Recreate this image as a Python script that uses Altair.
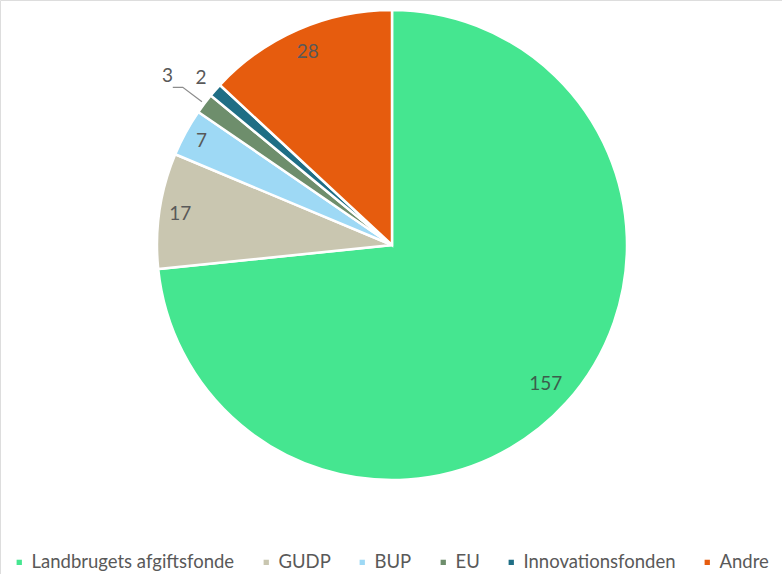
import math
import altair as alt
import pandas as pd

categories = ["Landbrugets afgiftsfonde", "GUDP", "BUP", "EU", "Innovationsfonden", "Andre"]
values = [157, 17, 7, 3, 2, 28]
colors = ["#45E690", "#C9C6B0", "#9ED9F5", "#6E8E6C", "#1F6E85", "#E65C0E"]

CX, CY, R = 392, 245, 235
label_r = [207, 214, 217, 281, 254, 211]

df = pd.DataFrame({
    "cat": categories,
    "val": values,
    "idx": list(range(len(categories))),
    "lr": label_r,
})

# leader line for the "EU" slice, derived from its mid angle
total = sum(values)
start = sum(values[:3])
mid = (start + values[3] / 2) / total * 2 * math.pi
p1 = (CX + 238 * math.sin(mid), CY - 238 * math.cos(mid))
p2 = (CX + 262 * math.sin(mid), CY - 262 * math.cos(mid))
p3 = (p2[0] - 10, p2[1])
lead = pd.DataFrame({"x": [p1[0], p2[0], p3[0]], "y": [p1[1], p2[1], p3[1]], "o": [0, 1, 2]})

color_scale = alt.Scale(domain=categories, range=colors)

pie = alt.Chart(df).mark_arc(stroke="white", strokeWidth=2.5, radius=R).encode(
    theta=alt.Theta("val:Q", stack=True),
    order=alt.Order("idx:Q"),
    x=alt.value(CX),
    y=alt.value(CY),
    color=alt.Color(
        "cat:N",
        scale=color_scale,
        sort=categories,
        legend=alt.Legend(
            title=None,
            orient="none",
            legendX=10,
            legendY=553,
            direction="horizontal",
            columns=6,
            symbolType="square",
            symbolSize=28,
            symbolStrokeWidth=0,
            labelFont="Lato",
            labelFontSize=18.5,
            labelColor="#595959",
            columnPadding=22,
            labelOffset=3,
            labelLimit=400,
        ),
    ),
)

labels = alt.Chart(df).transform_window(
    cum="sum(val)", sort=[alt.SortField("idx")]
).transform_joinaggregate(
    tot="sum(val)"
).transform_calculate(
    mid="(datum.cum - datum.val / 2) / datum.tot * 2 * PI"
).mark_text(font="Lato", fontSize=19, align="center", baseline="middle").encode(
    x=alt.value(CX),
    y=alt.value(CY),
    theta=alt.Theta("mid:Q", scale=None),
    radius=alt.Radius("lr:Q", scale=None),
    text=alt.Text("val:Q"),
    color=alt.condition("datum.idx == 0", alt.value("#3B5E4C"), alt.value("#595959")),
)

leader = alt.Chart(lead).mark_line(color="#8C8C8C", strokeWidth=1.2).encode(
    x=alt.X("x:Q", scale=None),
    y=alt.Y("y:Q", scale=None),
    order="o:Q",
)

chart = alt.layer(pie, leader, labels).properties(
    width=782, height=574, padding=0, autosize=alt.AutoSizeParams(type="none")
).resolve_scale(theta="independent").configure_view(stroke=None).configure(background="white")

chart.save("out.html", embed_options={"renderer": "svg", "actions": False})
